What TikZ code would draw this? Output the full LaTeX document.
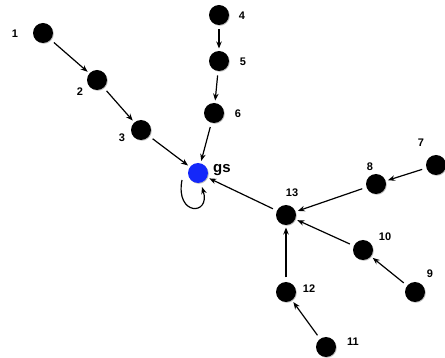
\documentclass[tikz,border=0pt]{standalone}
\usepackage{fontspec}
\setmainfont{Liberation Sans}
\usetikzlibrary{arrows.meta,shadows}
\begin{document}
\begin{tikzpicture}[x=1pt,y=-1pt,
  vert/.style={circle,fill=black,minimum size=20pt,inner sep=0pt,outer sep=2.5pt,
    drop shadow={shadow xshift=0.8pt,shadow yshift=-0.8pt,opacity=0.25,fill=black}},
  gsvert/.style={vert,fill={rgb,255:red,20;green,40;blue,250}},
  lab/.style={font=\bfseries\fontsize{11}{13}\selectfont,inner sep=0pt},
  edge/.style={line width=1.2pt,-{Stealth[length=7pt,width=5.5pt]},shorten <=2pt}]
\useasboundingbox (0,0) rectangle (445,358);
\node[vert] (n1) at (43,33) {};
\node[vert] (n2) at (97,80) {};
\node[vert] (n3) at (141,130) {};
\node[vert] (n4) at (219,15) {};
\node[vert] (n5) at (219,61) {};
\node[vert] (n6) at (214,113) {};
\node[gsvert] (gs) at (198,173) {};
\node[vert] (n7) at (436,165) {};
\node[vert] (n8) at (376,184) {};
\node[vert] (n13) at (286,215) {};
\node[vert] (n10) at (363,250) {};
\node[vert] (n9) at (415,292) {};
\node[vert] (n12) at (286,292) {};
\node[vert] (n11) at (326,347) {};
\node[lab] (l1) at (15,34) {1};
\node[lab] (l2) at (80,92) {2};
\node[lab] (l3) at (122,138) {3};
\node[lab] (l4) at (242,16) {4};
\node[lab] (l5) at (243,62) {5};
\node[lab] (l6) at (238,114) {6};
\node[lab] (l7) at (421,143) {7};
\node[lab] (l8) at (370,167) {8};
\node[lab] (l13) at (292,193) {13};
\node[lab] (l10) at (385,237) {10};
\node[lab] (l9) at (430,274) {9};
\node[lab] (l12) at (309,289) {12};
\node[lab] (l11) at (353,342) {11};
\node[lab,font=\bfseries\fontsize{15}{17}\selectfont] (lgs) at (222,170) {gs};
\draw[edge] (n1) -- (n2);
\draw[edge] (n2) -- (n3);
\draw[edge] (n3) -- (gs);
\draw[edge] (n4) -- (n5);
\draw[edge] (n5) -- (n6);
\draw[edge] (n6) -- (gs);
\draw[edge] (n7) -- (n8);
\draw[edge] (n8) -- (n13);
\draw[edge] (n9) -- (n10);
\draw[edge] (n10) -- (n13);
\draw[edge] (n11) -- (n12);
\draw[edge] (n12) -- (n13);
\draw[edge] (n13) -- (gs);
\coordinate (ls) at (182,180);
\coordinate (le) at (202,187);
\draw[edge,shorten <=0pt] (ls) .. controls (175,216) and (211,216) .. (le);
\end{tikzpicture}
\end{document}
